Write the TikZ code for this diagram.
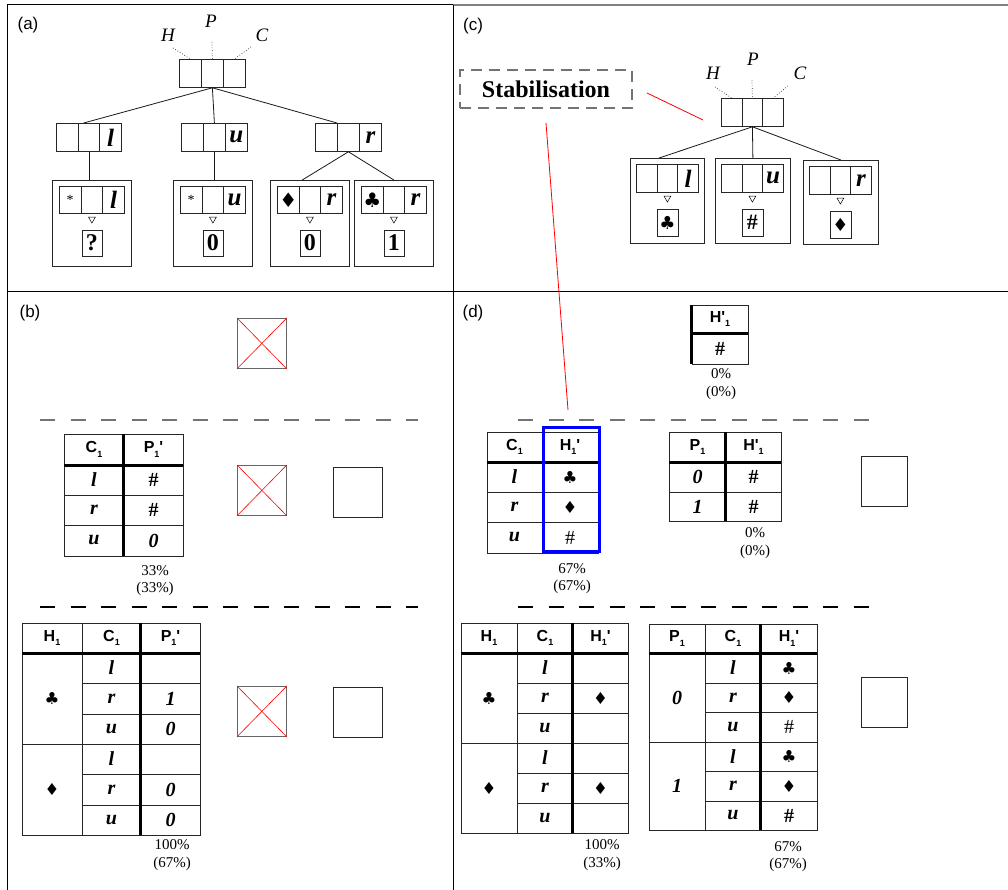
\documentclass[tikz,border=0pt]{standalone}
\usepackage{fontspec}
\setmainfont{Liberation Serif}
\newfontfamily\sansf{Liberation Sans}
\newfontfamily\symf{DejaVu Sans}
\usetikzlibrary{shapes.geometric,positioning}
\newcommand\sone{\raisebox{-0.5ex}{\fontsize{9}{9}\selectfont 1}}
\newcommand\hdr[1]{{\sansf\bfseries\fontsize{16}{16}\selectfont #1}}
\newcommand\tb[1]{{\fontsize{20}{20}\selectfont\bfseries\itshape #1}}
\newcommand\suit[1]{{\symf\fontsize{16.5}{16.5}\selectfont #1}}
\newcommand\hsn{{\fontsize{20}{20}\selectfont\#}}
\newcommand\hsb{{\fontsize{20}{20}\selectfont\bfseries\#}}
\newcommand\trl[1]{{\fontsize{25}{25}\selectfont\bfseries\itshape #1}}
\newcommand\ans[1]{{\fontsize{24}{24}\selectfont\bfseries #1}}
\newcommand\bigsuit[1]{{\symf\fontsize{20}{20}\selectfont #1}}
\newcommand\ansuit[1]{{\symf\fontsize{18}{18}\selectfont #1}}
\newcommand\hpc[1]{{\fontsize{19}{19}\selectfont\itshape #1}}
\newcommand\plab[1]{{\sansf\fontsize{17}{17}\selectfont #1}}
\tikzset{
  cellb/.style={draw=black!85,line width=0.8pt,inner sep=0pt,anchor=north west},
  frm/.style={draw=black!85,line width=0.8pt,inner sep=0pt,anchor=north west},
  tcell/.style={draw=black!85,line width=0.8pt,inner sep=0pt,anchor=center},
  thickl/.style={line width=2.6pt,black},
  edge/.style={line width=0.8pt,black!90},
  dotl/.style={dotted,line width=0.7pt,black!80},
  tri/.style={draw,regular polygon,regular polygon sides=3,shape border rotate=180,minimum size=8pt,inner sep=0pt,line width=0.5pt},
  ansbox/.style={draw=black!85,line width=0.8pt,inner sep=0pt,minimum width=20pt,minimum height=26pt},
  xbox/.style={draw=black!60,line width=0.8pt,inner sep=0pt,minimum width=49pt,minimum height=50pt,anchor=north west},
  pbox/.style={draw=black!85,line width=0.8pt,inner sep=0pt,minimum width=49pt,minimum height=50pt,anchor=north west},
  pct/.style={align=center,inner sep=0pt,font=\fontsize{15}{17.5}\selectfont},
  sep/.style={dash pattern=on 15pt off 15.5pt,line width=1.6pt},
}
\newcommand\triple[8]{%
  \node[cellb,minimum width=#4pt,minimum height=#5pt] (#1-1) at (#2,#3) {#6};
  \node[cellb,minimum width=#4pt,minimum height=#5pt] (#1-2) at ({#2+#4},#3) {#7};
  \node[cellb,minimum width=#4pt,minimum height=#5pt] (#1-3) at ({#2+2*#4},#3) {#8};
}
\newcommand\tc[6]{\node[tcell,minimum width={(#4-#2)*1pt},minimum height={(#5-#3)*1pt}] (#1) at ({(#2+#4)/2},{(#3+#5)/2}) {#6};}
\begin{document}
\begin{tikzpicture}[x=1pt,y=-1pt]
\useasboundingbox (0,0) rectangle (1008,890);
% ---------- panel frames ----------
\draw[line width=1pt,black] (7,5) -- (453,5);
\draw[line width=2pt,black!50] (453,5) -- (1008,5);
\draw[line width=1pt,black] (7,5) -- (7,890);
\draw[line width=1pt,black] (453,5) -- (453,890);
\draw[line width=1pt,black] (7,292) -- (1008,292);
\node (la) at (28,25) {\plab{(a)}};
\node (lc) at (473,26) {\plab{(c)}};
\node (lb) at (30,313) {\plab{(b)}};
\node (ld) at (473,313) {\plab{(d)}};

% ---------- panel (a) ----------
\triple{ra}{179}{59}{22}{28}{}{}{}
\node (aH) at (168,35) {\hpc{H}};
\node (aP) at (211,21) {\hpc{P}};
\node (aC) at (262,35) {\hpc{C}};
\coordinate (aHd) at (173,48);
\coordinate (aPd) at (212,42);
\coordinate (aCd) at (251,47);
\draw[dotl] (aHd) -- (ra-1.north);
\draw[dotl] (aPd) -- (ra-2.north);
\draw[dotl] (aCd) -- (ra-3.north);
\triple{ka}{56}{123}{21.67}{28}{}{}{\trl{l}}
\triple{ma}{181}{123}{22}{28}{}{}{\trl{u}}
\triple{na}{315}{123}{22}{28}{}{}{\trl{r}}
\draw[edge] (ra-2.south) -- (ka-2.110);
\draw[edge] (ra-2.south) -- (ma-2.north);
\draw[edge] (ra-2.south) -- (na-2.north west);
\node[frm,minimum width=79pt,minimum height=86pt] (fa1) at (52,180) {};
\node[frm,minimum width=79pt,minimum height=86pt] (fa2) at (173,180) {};
\node[frm,minimum width=79pt,minimum height=86pt] (fa3) at (270,180) {};
\node[frm,minimum width=79pt,minimum height=86pt] (fa4) at (354,180) {};
\draw[edge] (ka-2.south) -- (ka-2.south |- fa1.north);
\draw[edge] (ma-2.south) -- (ma-2.south |- fa2.north);
\draw[edge] (na-2.south) -- (fa3.100);
\draw[edge] (na-2.south) -- (fa4.north);
\triple{ia1}{59}{186}{21.67}{27}{{\fontsize{14}{14}\selectfont *}}{}{\trl{l}}
\triple{ia2}{180}{186}{21.67}{27}{{\fontsize{14}{14}\selectfont *}}{}{\trl{u}}
\triple{ia3}{277}{186}{21.67}{27}{\bigsuit{♦}}{}{\trl{r}}
\triple{ia4}{361}{186}{21.67}{27}{\bigsuit{♣}}{}{\trl{r}}
\foreach \k/\t in {1/?,2/0,3/0,4/1}{
  \node[tri,below=3pt of ia\k-2] (ta\k) {};
  \node[ansbox,below=6pt of ta\k] (aa\k) {\ans{\t}};
}

% ---------- panel (c) ----------
\node[draw=black!55,dash pattern=on 11pt off 7pt,line width=1.4pt,minimum width=172pt,minimum height=38pt,inner sep=0pt] (stab) at (546,89) {{\fontsize{24}{24}\selectfont\bfseries Stabilisation}};
\triple{rc}{721}{98}{20.67}{28}{}{}{}
\node (cH) at (713,73) {\hpc{H}};
\node (cP) at (753,59) {\hpc{P}};
\node (cC) at (800,73) {\hpc{C}};
\coordinate (cHd) at (715,87);
\coordinate (cPd) at (752,80);
\coordinate (cCd) at (788,86);
\draw[dotl] (cHd) -- (rc-1.north);
\draw[dotl] (cPd) -- (rc-2.north);
\draw[dotl] (cCd) -- (rc-3.north);
\node[frm,minimum width=74pt,minimum height=85pt] (gc1) at (630,158) {};
\node[frm,minimum width=75pt,minimum height=85pt] (gc2) at (715,158) {};
\node[frm,minimum width=75pt,minimum height=84pt] (gc3) at (803,160) {};
\draw[edge] (rc-2.south) -- (gc1.101);
\draw[edge] (rc-2.south) -- (gc2.north);
\draw[edge] (rc-2.south) -- (gc3.north);
\triple{ic1}{636}{164}{20.67}{28}{}{}{\trl{l}}
\triple{ic2}{721}{164}{20.67}{28}{}{}{\trl{u}}
\triple{ic3}{809}{166}{20.67}{28}{}{}{\trl{r}}
\node[tri,below=3pt of ic1-2] (tc1) {};
\node[tri,below=3pt of ic2-2] (tc2) {};
\node[tri,below=3pt of ic3-2] (tc3) {};
\node[ansbox,minimum width=21pt,minimum height=27pt,below=6pt of tc1] (ac1) {\ansuit{♣}};
\node[ansbox,minimum width=21pt,minimum height=27pt,below=6pt of tc2] (ac2) {{\fontsize{22}{22}\selectfont\bfseries\#}};
\node[ansbox,minimum width=21pt,minimum height=27pt,below=6pt of tc3] (ac3) {\ansuit{♦}};
\coordinate (red1a) at (647,93);
\coordinate (red1b) at (703,120);
\draw[red,line width=0.8pt] (red1a) -- (red1b);
\coordinate (red2a) at (546,123);
\coordinate (red2b) at (568,410);
\draw[red,line width=0.8pt] (red2a) -- (red2b);

% ---------- panel (b) ----------
\node[xbox] (xb1) at (237,318) {};
\draw[red,line width=0.6pt] (xb1.north west) -- (xb1.south east) (xb1.north east) -- (xb1.south west);
\draw[sep,black!55] (40,420) -- (418,420);
\draw[sep,black] (40,607) -- (418,607);
% table B1
\tc{b1h1}{64}{434}{124}{465}{\hdr{C\sone}}
\tc{b1h2}{124}{434}{183}{465}{\hdr{P\sone'}}
\tc{b1a1}{64}{465}{124}{495}{\tb{l}}
\tc{b1a2}{124}{465}{183}{495}{\hsb}
\tc{b1b1}{64}{495}{124}{525}{\tb{r}}
\tc{b1b2}{124}{495}{183}{525}{\hsb}
\tc{b1c1}{64}{525}{124}{556}{\tb{u}}
\tc{b1c2}{124}{525}{183}{556}{\tb{0}}
\draw[thickl] (b1h1.south west) -- (b1h2.south east);
\draw[thickl] (b1h2.north west) -- (b1c2.south west);
\node[pct] (pb1) at (155,580.5) {33\%\\(33\%)};
\node[xbox] (xb2) at (237,465) {};
\draw[red,line width=0.6pt] (xb2.north west) -- (xb2.south east) (xb2.north east) -- (xb2.south west);
\node[pbox] (pbx1) at (333,467) {};
% table B2
\tc{b2h1}{22}{623}{82}{653}{\hdr{H\sone}}
\tc{b2h2}{82}{623}{141}{653}{\hdr{C\sone}}
\tc{b2h3}{141}{623}{200}{653}{\hdr{P\sone'}}
\tc{b2g1}{22}{653}{82}{744}{\suit{♣}}
\tc{b2g2}{22}{744}{82}{835}{\suit{♦}}
\tc{b2a1}{82}{653}{141}{683}{\tb{l}}
\tc{b2a2}{141}{653}{200}{683}{}
\tc{b2b1}{82}{683}{141}{714}{\tb{r}}
\tc{b2b2}{141}{683}{200}{714}{\tb{1}}
\tc{b2c1}{82}{714}{141}{744}{\tb{u}}
\tc{b2c2}{141}{714}{200}{744}{\tb{0}}
\tc{b2d1}{82}{744}{141}{774}{\tb{l}}
\tc{b2d2}{141}{744}{200}{774}{}
\tc{b2e1}{82}{774}{141}{805}{\tb{r}}
\tc{b2e2}{141}{774}{200}{805}{\tb{0}}
\tc{b2f1}{82}{805}{141}{835}{\tb{u}}
\tc{b2f2}{141}{805}{200}{835}{\tb{0}}
\draw[thickl] (b2h1.south west) -- (b2h3.south east);
\draw[thickl] (b2h3.north west) -- (b2f2.south west);
\node[pct] (pb2) at (172,855) {100\%\\(67\%)};
\node[xbox] (xb3) at (237,686) {};
\draw[red,line width=0.6pt] (xb3.north west) -- (xb3.south east) (xb3.north east) -- (xb3.south west);
\node[pbox] (pbx2) at (333,687) {};

% ---------- panel (d) ----------
\tc{d0h}{692}{305}{748}{333}{\hdr{H'\sone}}
\tc{d0a}{692}{333}{748}{364}{\hsb}
\draw[thickl] (d0h.south west) -- (d0h.south east);
\draw[thickl] (d0h.north west) -- (d0a.south west);
\node[pct] (pd0) at (721,384) {0\%\\(0\%)};
\draw[sep,black!55] (518,420) -- (875,420);
\draw[sep,black] (518,607) -- (875,607);
% table D1
\tc{d1h1}{487}{432}{542}{462}{\hdr{C\sone}}
\tc{d1h2}{542}{432}{598}{462}{\hdr{H\sone'}}
\tc{d1a1}{487}{462}{542}{492}{\tb{l}}
\tc{d1a2}{542}{462}{598}{492}{\suit{♣}}
\tc{d1b1}{487}{492}{542}{522}{\tb{r}}
\tc{d1b2}{542}{492}{598}{522}{\suit{♦}}
\tc{d1c1}{487}{522}{542}{553}{\tb{u}}
\tc{d1c2}{542}{522}{598}{553}{\hsn}
\draw[thickl] (d1h1.south west) -- (d1h2.south east);
\draw[blue,line width=3pt] (543,427.5) rectangle (599.5,551.5);
\node[pct] (pd1) at (572,578.5) {67\%\\(67\%)};
% table D2
\tc{d2h1}{669}{432}{726}{462}{\hdr{P\sone}}
\tc{d2h2}{726}{432}{781}{462}{\hdr{H'\sone}}
\tc{d2a1}{669}{462}{726}{492}{\tb{0}}
\tc{d2a2}{726}{462}{781}{492}{\hsb}
\tc{d2b1}{669}{492}{726}{521}{\tb{1}}
\tc{d2b2}{726}{492}{781}{521}{\hsb}
\draw[thickl] (d2h1.south west) -- (d2h2.south east);
\draw[thickl] (d2h2.north west) -- (d2b2.south west);
\node[pct] (pd2) at (755,543) {0\%\\(0\%)};
\node[pbox,minimum width=46pt] (pbx3) at (861,456) {};
% table D3
\tc{d3h1}{461}{623}{517}{653}{\hdr{H\sone}}
\tc{d3h2}{517}{623}{573}{653}{\hdr{C\sone}}
\tc{d3h3}{573}{623}{628}{653}{\hdr{H\sone'}}
\tc{d3g1}{461}{653}{517}{743}{\suit{♣}}
\tc{d3g2}{461}{743}{517}{833}{\suit{♦}}
\tc{d3a1}{517}{653}{573}{683}{\tb{l}}
\tc{d3a2}{573}{653}{628}{683}{}
\tc{d3b1}{517}{683}{573}{713}{\tb{r}}
\tc{d3b2}{573}{683}{628}{713}{\suit{♦}}
\tc{d3c1}{517}{713}{573}{743}{\tb{u}}
\tc{d3c2}{573}{713}{628}{743}{}
\tc{d3d1}{517}{743}{573}{773}{\tb{l}}
\tc{d3d2}{573}{743}{628}{773}{}
\tc{d3e1}{517}{773}{573}{803}{\tb{r}}
\tc{d3e2}{573}{773}{628}{803}{\suit{♦}}
\tc{d3f1}{517}{803}{573}{833}{\tb{u}}
\tc{d3f2}{573}{803}{628}{833}{}
\draw[thickl] (d3h1.south west) -- (d3h3.south east);
\draw[thickl] (d3h3.north west) -- (d3f2.south west);
\node[pct] (pd3) at (602,855) {100\%\\(33\%)};
% table D4
\tc{d4h1}{649}{624}{705}{653}{\hdr{P\sone}}
\tc{d4h2}{705}{624}{761}{653}{\hdr{C\sone}}
\tc{d4h3}{761}{624}{817}{653}{\hdr{H\sone'}}
\tc{d4g1}{649}{653}{705}{742}{\tb{0}}
\tc{d4g2}{649}{742}{705}{830}{\tb{1}}
\tc{d4a1}{705}{653}{761}{683}{\tb{l}}
\tc{d4a2}{761}{653}{817}{683}{\suit{♣}}
\tc{d4b1}{705}{683}{761}{712}{\tb{r}}
\tc{d4b2}{761}{683}{817}{712}{\suit{♦}}
\tc{d4c1}{705}{712}{761}{742}{\tb{u}}
\tc{d4c2}{761}{712}{817}{742}{\hsn}
\tc{d4d1}{705}{742}{761}{771}{\tb{l}}
\tc{d4d2}{761}{742}{817}{771}{\suit{♣}}
\tc{d4e1}{705}{771}{761}{801}{\tb{r}}
\tc{d4e2}{761}{771}{817}{801}{\suit{♦}}
\tc{d4f1}{705}{801}{761}{830}{\tb{u}}
\tc{d4f2}{761}{801}{817}{830}{\hsb}
\draw[thickl] (d4h1.south west) -- (d4h3.south east);
\draw[thickl] (d4h3.north west) -- (d4f2.south west);
\node[pct] (pd4) at (788,856.5) {67\%\\(67\%)};
\node[pbox,minimum width=46pt] (pbx4) at (861,677) {};
\end{tikzpicture}
\end{document}
